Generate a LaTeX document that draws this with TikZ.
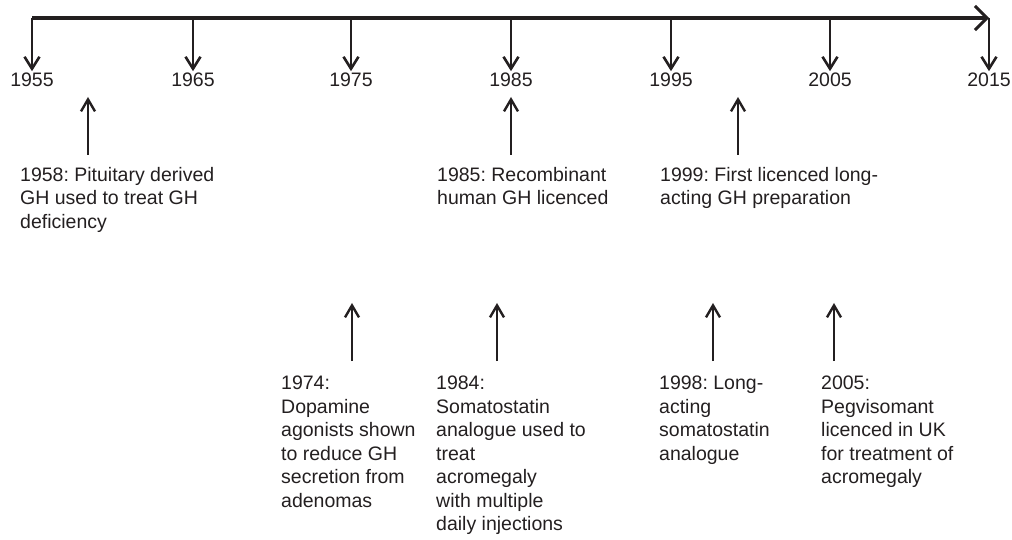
\documentclass[tikz,border=0pt]{standalone}
\usepackage{fontspec}
\setmainfont{Liberation Sans}
\frenchspacing
\usetikzlibrary{arrows.meta}
\definecolor{tinte}{HTML}{231F20}

\begin{document}
\begin{tikzpicture}[x=1bp,y=-1bp,color=tinte,
  achse/.style={line width=3.6bp,-{Straight Barb[length=12bp,width=24bp,line width=3bp]}},
  jahrpfeil/.style={line width=2.6bp,-{Straight Barb[length=12bp,width=15bp]}},
  ereignis/.style={line width=2.4bp,-{Straight Barb[length=12bp,width=14bp]}},
  jahr/.style={inner sep=2bp,anchor=base,font=\fontsize{19.5bp}{23.5bp}\selectfont},
  notiz/.style={inner xsep=0pt,inner ysep=12bp,anchor=north west,align=left,font=\fontsize{19.5bp}{23.5bp}\selectfont},
  notizunten/.style={notiz,inner ysep=15bp}]
\useasboundingbox (0,0) rectangle (1012,540);

% Zeitachse
\coordinate (t1955) at (32,18);
\coordinate (t1965) at (193,18);
\coordinate (t1975) at (351,18);
\coordinate (t1985) at (511,18);
\coordinate (t1995) at (671,18);
\coordinate (t2005) at (830,18);
\coordinate (t2015) at (989,18);
\draw[achse] (t1955) -- (t2015);

% Jahre
\node[jahr] (j1955) at (32,87) {1955};
\node[jahr] (j1965) at (193,87) {1965};
\node[jahr] (j1975) at (351,87) {1975};
\node[jahr] (j1985) at (511,87) {1985};
\node[jahr] (j1995) at (671,87) {1995};
\node[jahr] (j2005) at (830,87) {2005};
\node[jahr] (j2015) at (989,87) {2015};
\draw[jahrpfeil] (t1955) -- (j1955);
\draw[jahrpfeil] (t1965) -- (j1965);
\draw[jahrpfeil] (t1975) -- (j1975);
\draw[jahrpfeil] (t1985) -- (j1985);
\draw[jahrpfeil] (t1995) -- (j1995);
\draw[jahrpfeil] (t2005) -- (j2005);
\draw[jahrpfeil] (t2015) -- (j2015);

% Ereignisse oben
\node[notiz] (e1958) at (20,155) {1958: Pituitary derived\\GH used to treat GH\\deficiency};
\node[notiz] (e1985) at (437,155) {1985: Recombinant\\human GH licenced};
\node[notiz] (e1999) at (660,155) {1999: First licenced long-\\acting GH preparation};
\coordinate (p1958) at (88,97);
\coordinate (p1985) at (511,97);
\coordinate (p1999) at (738,97);
\draw[ereignis] (e1958.north -| p1958) -- (p1958);
\draw[ereignis] (e1985.north -| p1985) -- (p1985);
\draw[ereignis] (e1999.north -| p1999) -- (p1999);

% Ereignisse unten
\node[notizunten] (e1974) at (281,361) {1974:\\Dopamine\\agonists shown\\to reduce GH\\secretion from\\adenomas};
\node[notizunten] (e1984) at (436,361) {1984:\\Somatostatin\\analogue used to\\treat\\acromegaly\\with multiple\\daily injections};
\node[notizunten] (e1998) at (659,361) {1998: Long-\\acting\\somatostatin\\analogue};
\node[notizunten] (e2005) at (821,361) {2005:\\Pegvisomant\\licenced in UK\\for treatment of\\acromegaly};
\coordinate (p1974) at (352,303);
\coordinate (p1984) at (497,303);
\coordinate (p1998) at (713,303);
\coordinate (p2005) at (834,303);
\draw[ereignis] (e1974.north -| p1974) -- (p1974);
\draw[ereignis] (e1984.north -| p1984) -- (p1984);
\draw[ereignis] (e1998.north -| p1998) -- (p1998);
\draw[ereignis] (e2005.north -| p2005) -- (p2005);
\end{tikzpicture}
\end{document}
